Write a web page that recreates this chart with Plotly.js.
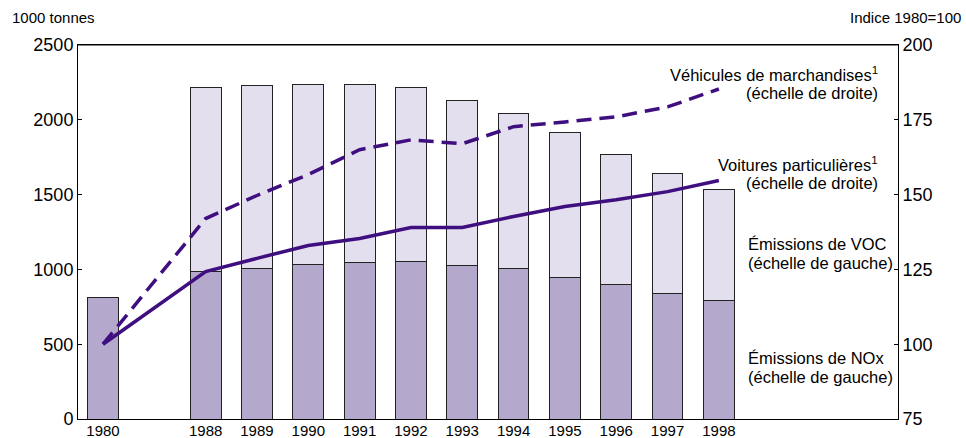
<!DOCTYPE html>
<html><head><meta charset="utf-8">
<script src="https://cdn.plot.ly/plotly-3.0.1.min.js"></script>
<style>body{margin:0}#c{width:966px;height:438px}</style>
</head><body><div id="c"></div>
<script>
const years = ['1980','1988','1989','1990','1991','1992','1993','1994','1995','1996','1997','1998'];
const xpos = [0,2,3,4,5,6,7,8,9,10,11,12];
const nox = [815,983,1009,1036,1049,1056,1023,1003,949,896,836,789];
const voc = [0,1236,1217,1203,1184,1157,1109,1036,963,875,808,748];
const voitures = [100,124.3,128.7,133,135.3,139,139,142.7,146,148.3,151,154.7];
const marchandises = [100,142,149.7,156.7,165,168.3,167,172.7,174.3,176,179.3,185.3];
const leftTicks = [0,500,1000,1500,2000,2500];
const rightTicks = [75,100,125,150,175,200];

const L=78,R=898,T=45,B=419;
const px = x => (x-L)/(R-L);
const py = y => (B-y)/(B-T);
const FAM = 'Liberation Sans, Arial, sans-serif';

const traces = [
 {type:'bar', x:xpos, y:nox, width:0.6, marker:{color:'#b4a9cd', line:{color:'#222', width:1}}, yaxis:'y', hoverinfo:'skip'},
 {type:'bar', x:xpos, y:voc, width:0.6, marker:{color:'#e4dfee', line:{color:'#222', width:1}}, yaxis:'y', hoverinfo:'skip'},
 {type:'scatter', mode:'lines', x:xpos, y:marchandises, yaxis:'y2', line:{color:'#3f0f80', width:3.5, dash:'15px,8px'}},
 {type:'scatter', mode:'lines', x:xpos, y:voitures, yaxis:'y2', line:{color:'#3f0f80', width:3.5}}
];

const ann = (text, x, y, xanchor, size) => ({text, x:px(x), y:py(y), xref:'paper', yref:'paper', xanchor, yanchor:'middle', showarrow:false, font:{family:FAM, size:size||16.5, color:'#000'}, align: xanchor==='right'?'right':'left'});

const layout = {
 width:966, height:438, margin:{l:L, r:966-R, t:T, b:438-B},
 barmode:'stack', showlegend:false, plot_bgcolor:'#fff', paper_bgcolor:'#fff',
 font:{family:FAM, size:18, color:'#000'},
 xaxis:{range:[-0.487,15.49], tickvals:xpos, ticktext:years, showline:true, linecolor:'#000', linewidth:1, mirror:true, ticks:'', showgrid:false, zeroline:false, tickfont:{size:15}, ticklabelstandoff:-2},
 yaxis:{range:[0,2500], tickvals:leftTicks, showline:true, linecolor:'#000', linewidth:1, ticks:'inside', ticklen:4, tickcolor:'#000', showgrid:false, zeroline:false, tickfont:{size:18}},
 yaxis2:{range:[75,200], tickvals:rightTicks, overlaying:'y', side:'right', showline:true, linecolor:'#000', linewidth:1, ticks:'inside', ticklen:4, tickcolor:'#000', showgrid:false, zeroline:false, tickfont:{size:18}},
 shapes:[{type:'line', xref:'paper', yref:'paper', x0:0, x1:1, y0:1, y1:1, line:{color:'#000', width:1}}],
 annotations:[
  ann('1000 tonnes', 10, 18, 'left', 15),
  ann('Indice 1980=100', 963, 18, 'right', 15),
  ann('Véhicules de marchandises<sup>1</sup>', 880, 74, 'right'),
  ann('(échelle de droite)', 880, 93, 'right'),
  ann('Voitures particulières<sup>1</sup>', 880, 164, 'right'),
  ann('(échelle de droite)', 880, 183, 'right'),
  ann('Émissions de VOC', 746, 244, 'left'),
  ann('(échelle de gauche)', 746, 263, 'left'),
  ann('Émissions de NOx', 746, 358, 'left'),
  ann('(échelle de gauche)', 746, 377, 'left')
 ]
};
Plotly.newPlot('c', traces, layout, {displayModeBar:false, staticPlot:true});
</script></body></html>
